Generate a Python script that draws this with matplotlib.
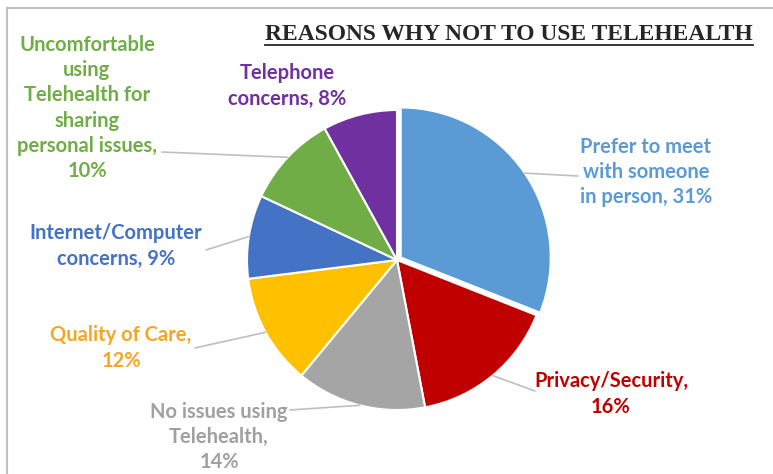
import numpy as np
import matplotlib
matplotlib.use('Agg')
import matplotlib.pyplot as plt
from matplotlib.patches import Rectangle

# survey shares, clockwise from 12 o'clock
labels = ['Prefer to meet\nwith someone\nin person, 31%',
          'Privacy/Security,\n16%',
          'No issues using\nTelehealth,\n14%',
          'Quality of Care,\n12%',
          'Internet/Computer\nconcerns, 9%',
          'Uncomfortable\nusing\nTelehealth for\nsharing\npersonal issues,\n10%',
          'Telephone\nconcerns, 8%']
shares = [31, 16, 14, 12, 9, 10, 8]
slice_colors = ['#5B9BD5', '#C00000', '#A5A5A5', '#FFC000', '#4472C4', '#70AD47', '#7030A0']
text_colors = ['#5B9BD5', '#C00000', '#A0A0A0', '#F5A623', '#4472C4', '#70AD47', '#7030A0']

W, H = 773, 474
fig = plt.figure(figsize=(W / 100, H / 100), dpi=100)

# pie axes: centre (397, 260) px, radius 150 px
cx, cy, r = 397, 260, 150
ax = fig.add_axes([(cx - r) / W, (H - cy - r) / H, 2 * r / W, 2 * r / H])

explode = [0.03, 0, 0, 0, 0, 0, 0]
wedges, _ = ax.pie(shares, colors=slice_colors, startangle=90, counterclock=False,
                   radius=1, explode=explode,
                   wedgeprops=dict(edgecolor='white', linewidth=1.5))
ax.set_xlim(-1, 1)
ax.set_ylim(-1, 1)
ax.set_aspect('equal')
ax.axis('off')

def px(x, y):
    # pixel position -> pie data units
    return (x - cx) / r, (cy - y) / r

# label centres and leader-line start points (pixels)
label_pos = [(646, 172), (611, 394), (219, 437), (121, 348), (116, 246), (87, 108), (287, 86)]
leader_from = [(578, 176), (535, 391), (290, 410), (195, 348), (206, 250), (162, 152), None]

for w, lab, tc, pos, lf in zip(wedges, labels, text_colors, label_pos, leader_from):
    mid = np.deg2rad((w.theta1 + w.theta2) / 2)
    tip = (w.r * np.cos(mid) + w.center[0], w.r * np.sin(mid) + w.center[1])
    if lf is not None:
        ax.annotate('', xy=tip, xytext=px(*lf),
                    arrowprops=dict(arrowstyle='-', color='#BFBFBF', lw=1.2,
                                    shrinkA=0, shrinkB=0))
    ax.text(*px(*pos), lab, ha='center', va='center', color=tc,
            fontsize=14.5, fontweight='bold', family='Lato',
            linespacing=1.33, clip_on=False)

# title with underline
t = fig.text(509 / W, 1 - 35 / H, 'REASONS WHY NOT TO USE TELEHEALTH', ha='center', va='center',
             fontsize=16.9, fontweight='bold', family='Liberation Serif', color='#262626')
fig.canvas.draw()
bb = t.get_window_extent()
fig.add_artist(plt.Line2D([bb.x0 / W, bb.x1 / W], [(H - 45) / H, (H - 45) / H],
                          color='#262626', lw=1.3, transform=fig.transFigure))

# chart frame
fig.add_artist(Rectangle((7 / W, -0.1), 1.2, (H - 8) / H + 0.1, transform=fig.transFigure,
                         fill=False, edgecolor='#BFBFBF', lw=1.5))

fig.savefig('out.png', dpi=100)
